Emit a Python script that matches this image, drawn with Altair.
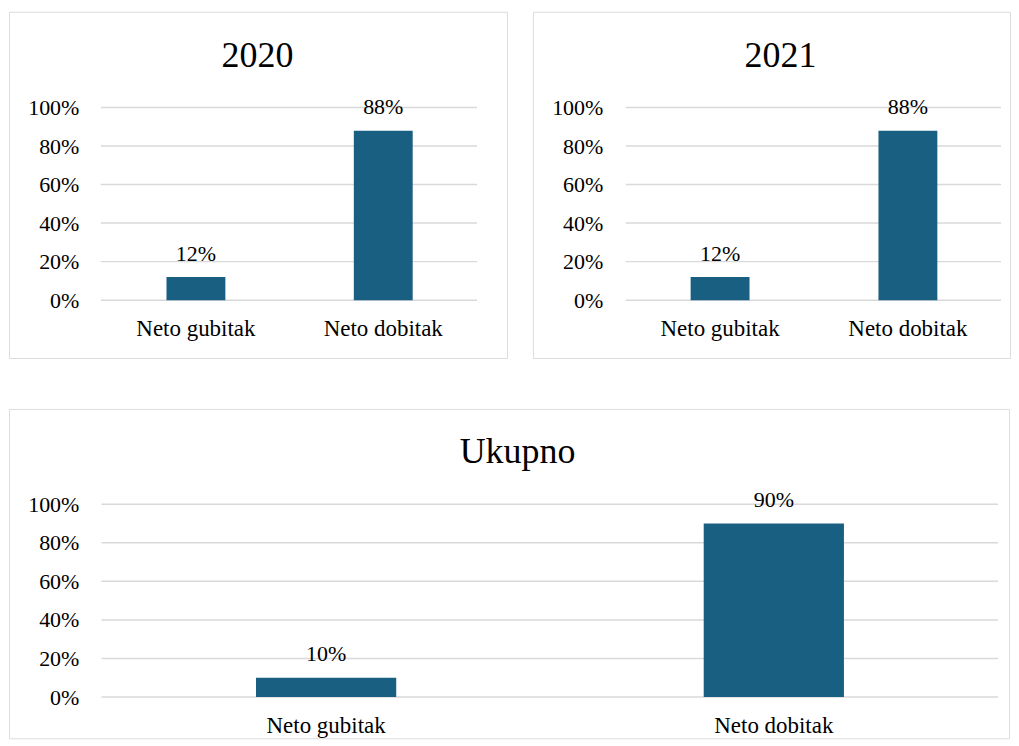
import altair as alt
import pandas as pd

categories = ["Neto gubitak", "Neto dobitak"]
values_2020 = [0.12, 0.88]
values_2021 = [0.12, 0.88]
values_total = [0.10, 0.90]
tick_values = [0.0, 0.2, 0.4, 0.6, 0.8, 1.0]
panel_titles = ["2020", "2021", "Ukupno"]

FONT = "Liberation Serif"
BAR = "#185F82"
GRID = "#D9D9D9"


def band(width, start, bw, step):
    pi = 1 - bw / step
    span = step * (2 - pi)
    outer = width - span
    po = outer / (2 * step)
    return pi, po, start / outer


def panel(title, values, width, height, zero_px, unit_px, start, bw, step,
          grid_x0, grid_x1, label_base, title_base, title_cx):
    df = pd.DataFrame({"cat": categories, "value": values})
    tdf = pd.DataFrame({"tick": tick_values})
    ttl = pd.DataFrame({"t": [title]})
    lo = -(height - zero_px) / unit_px
    hi = lo + height / unit_px
    yscale = alt.Scale(domain=[lo, hi], nice=False, zero=False)
    pi, po, al = band(width, start, bw, step)
    xenc = alt.X("cat:N", sort=categories,
                 scale=alt.Scale(paddingInner=pi, paddingOuter=po, align=al),
                 axis=alt.Axis(title=None, domain=False, ticks=False, labelAngle=0,
                               labelPadding=0, offset=label_base - height,
                               labelBaseline="alphabetic", labelFontSize=23,
                               labelColor="black", labelFont=FONT, grid=False))
    grid = alt.Chart(tdf).mark_rule(color=GRID, strokeWidth=1.5).encode(
        y=alt.Y("tick:Q", scale=yscale,
                axis=alt.Axis(title=None, values=tick_values, format=".0%", grid=False,
                              domain=False, ticks=False, labelPadding=0, offset=-70,
                              labelFontSize=22, labelColor="black", labelFont=FONT,
                              labelBaseline="middle")),
        x=alt.value(grid_x0), x2=alt.value(grid_x1))
    bars = alt.Chart(df).mark_bar(color=BAR).encode(
        x=xenc, y=alt.Y("value:Q", scale=yscale), y2=alt.datum(0))
    labels = alt.Chart(df).mark_text(font=FONT, fontSize=22, color="black",
                                     baseline="alphabetic", dy=-16.5).encode(
        x=xenc, y=alt.Y("value:Q", scale=yscale),
        text=alt.Text("value:Q", format=".0%"))
    head = alt.Chart(ttl).mark_text(font=FONT, fontSize=36, color="black",
                                    baseline="alphabetic", align="center").encode(
        text="t:N", x=alt.value(title_cx), y=alt.value(title_base))
    return alt.layer(grid, bars, labels, head).properties(width=width, height=height)


p1 = panel(panel_titles[0], values_2020, 499, 347, 289, 193, 157.8, 59, 187.7, 92, 469,
           324.3, 55, 249)
p2 = panel(panel_titles[1], values_2021, 478, 347, 289, 193, 158, 59, 188.2, 93, 469,
           324.3, 55, 248)
p3 = panel(panel_titles[2], values_total, 1002, 330, 288.7, 193.3, 247.5, 140.5, 448.6,
           92.7, 991, 324, 54, 509.5)

chart = alt.vconcat(alt.hconcat(p1, p2, spacing=24), p3, spacing=49).properties(
    padding={"left": 0, "top": 2, "right": 0, "bottom": 0}
).configure_view(stroke=GRID, strokeWidth=1).configure(font=FONT, background="white")

chart.save("out.html", embed_options={"renderer": "svg", "actions": False})
